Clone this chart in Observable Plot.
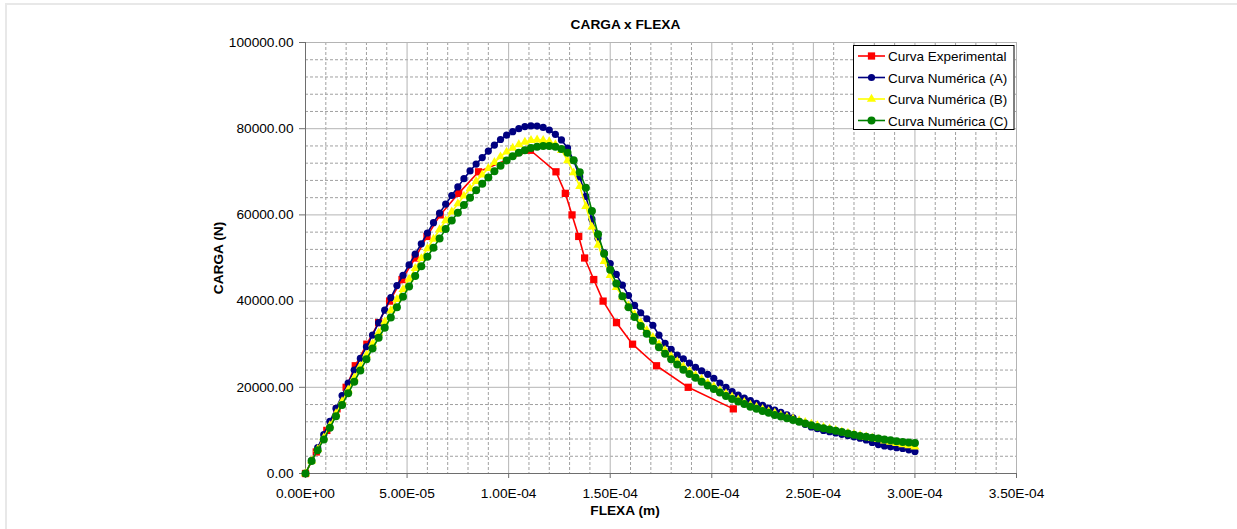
<!DOCTYPE html>
<html>
<head>
<meta charset="utf-8">
<script src="https://cdn.jsdelivr.net/npm/d3@7"></script>
<script src="https://cdn.jsdelivr.net/npm/@observablehq/plot@0.6"></script>
<style>
  html, body { margin: 0; padding: 0; background: #fff; }
  #chart { position: relative; width: 1237px; height: 529px; overflow: hidden; }
  #frame { position: absolute; left: 5px; top: 3px; width: 1300px; height: 600px;
           border-top: 2px solid #e8e8e8; border-left: 2px solid #e8e8e8; pointer-events: none; }
</style>
</head>
<body>
<div id="chart"><div id="frame"></div></div>
<script>
// Deflection (flexa) in micrometres for the three numerical analyses
const flexaNum = [0,3,6,9,12,15,18,21,24,27,30,33,36,39,42,45,48,51,54,57,60,63,66,69,72,75,78,81,84,87,90,93,96,99,102,105,108,111,114,117,120,123,126,129,132,135,138,141,144,147,150,153,156,159,162,165,168,171,174,177,180,183,186,189,192,195,198,201,204,207,210,213,216,219,222,225,228,231,234,237,240,243,246,249,252,255,258,261,264,267,270,273,276,279,282,285,288,291,294,297,300];

// Load (carga) in N — Curva Numérica (A)
const cargaA = [0,3000,6000,9000,12100,15100,18100,21000,24000,26700,
  29400,32100,35000,37900,40800,43600,46000,48400,50900,53300,
  55800,58200,60400,62500,64500,66500,68400,70200,71800,73300,
  74800,76200,77500,78500,79300,80000,80500,80650,80600,80300,
  79700,78700,77400,75500,72600,68800,64300,59000,54600,51200,
  48700,46200,43700,41300,39000,37300,35900,34400,32100,30200,
  28800,27500,26600,25600,24600,23800,23000,22100,21000,20000,
  19000,18200,17500,16900,16300,15800,15200,14700,14200,13600,
  12900,12100,11400,10800,10400,10000,9700,9400,9100,8800,
  8500,8200,7800,7200,6700,6400,6200,6000,5800,5500,
  5100];

// Curva Numérica (B)
const cargaB = [0,2950,5600,8300,11100,13900,16700,19400,22200,24900,
  27500,30100,32700,35200,37800,40400,42700,45100,47600,49900,
  52200,54400,56600,58700,60700,62600,64400,66100,67800,69300,
  70800,72200,73500,74600,75500,76300,76900,77300,77400,77300,
  77000,76300,75000,72600,69800,66600,62000,57200,53000,49200,
  46000,43200,41000,38900,36900,35000,33200,31600,30000,28600,
  27200,26000,24800,23800,22800,21900,21000,20200,19300,18500,
  17800,17100,16500,15900,15400,14900,14400,14000,13500,13100,
  12700,12300,11900,11500,11100,10700,10400,10000,9700,9400,
  9100,8800,8500,8200,7900,7600,7300,7000,6700,6500,
  6200];

// Curva Numérica (C)
const cargaC = [0,2900,5400,7900,10600,13300,15900,18600,21300,23900,
  26500,29000,31500,33800,36200,38600,41000,43400,45800,48100,
  50300,52400,54500,56700,58700,60500,62300,64000,65700,67200,
  68700,70100,71400,72600,73600,74400,75000,75500,75800,76000,
  76000,75800,75300,74400,72700,69900,66300,60900,55500,51000,
  47300,44100,41100,38600,36300,34200,32400,30800,29300,27800,
  26500,25300,24100,23100,22200,21300,20400,19600,18800,18000,
  17300,16700,16100,15500,15000,14500,14100,13600,13200,12800,
  12400,12000,11600,11200,10800,10500,10200,9900,9600,9300,
  9000,8700,8500,8300,8100,7900,7700,7500,7300,7200,
  7100];

// Curva Experimental: deflection (µm) and load (N)
const flexaExp = [0,5.3,10.5,15.5,20.0,24.5,30.2,36.0,41.4,47.5,54.0,59.8,66.3,75.4,85.2,110.7,
  123.3,127.9,131.2,134.5,137.4,141.9,146.5,153.1,161.0,172.8,188.4,210.6];
const cargaExp = [0,5000,10000,15000,20000,25000,30000,35000,40000,45000,50000,55000,60000,65000,70000,75000,
  70000,65000,60000,55000,50000,45000,40000,35000,30000,25000,20000,15000];

// Axis ticks
const xTicks = [0, 5e-5, 1e-4, 1.5e-4, 2e-4, 2.5e-4, 3e-4, 3.5e-4];
const yTicks = [0, 20000, 40000, 60000, 80000, 100000];

const seriesNames = ["Curva Experimental", "Curva Numérica (A)", "Curva Numérica (B)", "Curva Numérica (C)"];
const seriesColors = ["#ff0000", "#000080", "#ffff00", "#008000"];
const seriesSymbols = ["square", "circle", "triangle", "circle"];
const seriesR = [4.1, 3.6, 3.4, 4.0];

const toRows = (xs, ys) => xs.map((x, i) => ({x: x * 1e-6, y: ys[i]}));
const seriesRows = [
  toRows(flexaExp, cargaExp),
  toRows(flexaNum, cargaA),
  toRows(flexaNum, cargaB),
  toRows(flexaNum, cargaC)
];

// Scientific tick label such as 5.00E-05
function fmtE(d) {
  const [m, e] = d.toExponential(2).split("e");
  const sign = e[0] === "-" ? "-" : "+";
  return m + "E" + sign + e.replace(/[+-]/, "").padStart(2, "0");
}

const minorX = d3.range(0, 35).map(i => i * 1e-5).filter((d, i) => i % 5 !== 0);
const minorY = d3.range(0, 26).map(i => i * 4000).filter((d, i) => i % 5 !== 0);

const font = "'Liberation Sans', Arial, sans-serif";

// Each series: connecting line, then its markers (drawn in legend order)
const seriesMarks = seriesRows.flatMap((rows, i) => [
  Plot.line(rows, {x: "x", y: "y", stroke: seriesColors[i], strokeWidth: 1.6}),
  Plot.dot(rows, {x: "x", y: "y", symbol: seriesSymbols[i], r: seriesR[i], fill: seriesColors[i], stroke: "none"})
]);

const chart = Plot.plot({
  width: 1237,
  height: 529,
  marginLeft: 305,
  marginRight: 221,
  marginTop: 42,
  marginBottom: 56,
  x: {domain: [0, 3.5e-4]},
  y: {domain: [0, 100000]},
  style: {fontFamily: font, fontSize: "13.7px", color: "#000", background: "transparent", overflow: "visible"},
  marks: [
    Plot.ruleX(minorX, {stroke: "#a0a0a0", strokeDasharray: "3,2", strokeWidth: 1}),
    Plot.ruleY(minorY, {stroke: "#a0a0a0", strokeDasharray: "3,2", strokeWidth: 1}),
    Plot.ruleX(xTicks, {stroke: "#b4b4b4", strokeWidth: 1}),
    Plot.ruleY(yTicks, {stroke: "#b4b4b4", strokeWidth: 1}),
    Plot.ruleX([0], {stroke: "#6e6e6e", strokeWidth: 1}),
    Plot.ruleY([0], {stroke: "#6e6e6e", strokeWidth: 1}),
    Plot.axisX(xTicks, {tickFormat: fmtE, tickSize: 5, tickPadding: 10, label: null, stroke: "#6e6e6e", fill: "#000"}),
    Plot.axisY(yTicks, {tickFormat: d => d.toFixed(2), tickSize: 6, tickPadding: 6, label: null, stroke: "#6e6e6e", fill: "#000"}),
    ...seriesMarks
  ]
});

document.getElementById("chart").appendChild(chart);
chart.style.position = "absolute";
chart.style.left = "0px";
chart.style.top = "0px";

const svg = d3.select(chart);

// Titles
svg.append("text")
  .attr("x", 625.5).attr("y", 28.7)
  .attr("text-anchor", "middle")
  .attr("font-family", font).attr("font-size", "13.7px").attr("font-weight", "bold")
  .attr("fill", "#000")
  .text("CARGA x FLEXA");

svg.append("text")
  .attr("transform", "translate(223,258) rotate(-90)")
  .attr("text-anchor", "middle")
  .attr("font-family", font).attr("font-size", "13.7px").attr("font-weight", "bold")
  .attr("fill", "#000")
  .text("CARGA (N)");

svg.append("text")
  .attr("x", 625).attr("y", 515)
  .attr("text-anchor", "middle")
  .attr("font-family", font).attr("font-size", "13.7px").attr("font-weight", "bold")
  .attr("fill", "#000")
  .text("FLEXA (m)");

// Legend
const lg = svg.append("g");
lg.append("rect")
  .attr("x", 853.5).attr("y", 45.5).attr("width", 160.5).attr("height", 84)
  .attr("fill", "#fff").attr("stroke", "#000").attr("stroke-width", 1);

const d3Symbols = {square: d3.symbolSquare, circle: d3.symbolCircle, triangle: d3.symbolTriangle};
seriesNames.forEach((name, i) => {
  const cy = 56 + i * 21.5;
  lg.append("line")
    .attr("x1", 858).attr("x2", 885).attr("y1", cy).attr("y2", cy)
    .attr("stroke", seriesColors[i]).attr("stroke-width", 1.6);
  lg.append("path")
    .attr("transform", `translate(871.5,${cy})`)
    .attr("d", d3.symbol(d3Symbols[seriesSymbols[i]], Math.PI * seriesR[i] * seriesR[i])())
    .attr("fill", seriesColors[i]);
  lg.append("text")
    .attr("x", 888).attr("y", cy + 5)
    .attr("text-anchor", "start")
    .attr("font-family", font).attr("font-size", "13.5px")
    .attr("fill", "#000")
    .text(name);
});
</script>
</body>
</html>
